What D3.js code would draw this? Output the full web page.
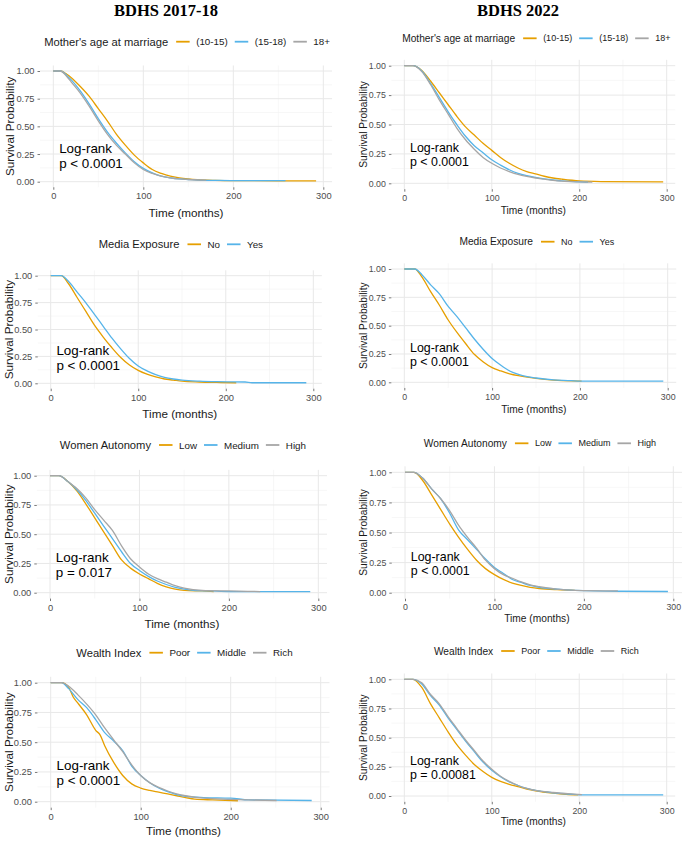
<!DOCTYPE html>
<html><head><meta charset="utf-8">
<script src="https://cdn.jsdelivr.net/npm/d3@7/dist/d3.min.js"></script>
<style>body{margin:0;background:#fff}svg{display:block}</style>
</head><body><svg id="c" width="690" height="841"></svg>
<script>
// ---------------- data ----------------
const columnTitles = ["BDHS 2017-18", "BDHS 2022"];
const legendTitles = ["Mother's age at marriage", "Media Exposure", "Women Autonomy", "Wealth Index"];
const groupLabels = [["(10-15)", "(15-18)", "18+"], ["No", "Yes"], ["Low", "Medium", "High"], ["Poor", "Middle", "Rich"]];
const testLabel = "Log-rank";
const pValueLabels = [["p < 0.0001", "p < 0.0001"], ["p < 0.0001", "p < 0.0001"], ["p = 0.017", "p < 0.0001"], ["p < 0.0001", "p = 0.00081"]];
const xTicks = [0, 100, 200, 300];
const xMinorTicks = [50, 150, 250];
const yTicks = [0, 0.25, 0.5, 0.75, 1];
const yMinorTicks = [0.125, 0.375, 0.625, 0.875];
const xAxisTitle = "Time (months)";
const yAxisTitle = "Survival Probability";
const seriesColors = ["#E69F00", "#56B4E9", "#A6A6A6"];

// Kaplan-Meier curves: [time (months), survival probability]
const age2017_10_15 = [[0,1],[8,1],[15,0.97],[20,0.94],[30,0.86],[40,0.77],[50,0.66],[60,0.55],[70,0.43],[80,0.33],[90,0.24],[100,0.17],[110,0.11],[120,0.075],[130,0.05],[140,0.035],[150,0.025],[160,0.018],[180,0.012],[200,0.01],[250,0.008],[292,0.008]];
const age2017_15_18 = [[0,1],[8,1],[15,0.96],[20,0.92],[30,0.82],[40,0.70],[50,0.57],[60,0.45],[70,0.35],[80,0.26],[90,0.18],[100,0.12],[110,0.08],[120,0.05],[130,0.035],[140,0.025],[150,0.02],[160,0.015],[180,0.012],[200,0.01],[258,0.01]];
const age2017_18p = [[0,1],[8,1],[15,0.95],[20,0.90],[30,0.80],[40,0.68],[50,0.55],[60,0.43],[70,0.33],[80,0.25],[90,0.17],[100,0.11],[110,0.075],[120,0.05],[130,0.035],[140,0.025],[150,0.02],[170,0.015]];

const age2022_10_15 = [[0,1],[10,1],[20,0.96],[30,0.87],[40,0.77],[50,0.67],[60,0.57],[70,0.48],[80,0.41],[90,0.34],[100,0.28],[110,0.22],[120,0.17],[130,0.13],[140,0.10],[150,0.08],[160,0.06],[170,0.045],[180,0.035],[200,0.02],[225,0.015],[296,0.012]];
const age2022_15_18 = [[0,1],[10,1],[20,0.955],[30,0.85],[40,0.73],[50,0.61],[60,0.50],[70,0.40],[80,0.32],[90,0.26],[100,0.20],[110,0.155],[120,0.115],[130,0.085],[140,0.065],[150,0.05],[160,0.038],[170,0.028],[180,0.02],[200,0.012],[210,0.01]];
const age2022_18p = [[0,1],[10,1],[20,0.95],[30,0.84],[40,0.71],[50,0.59],[60,0.47],[70,0.37],[80,0.29],[90,0.22],[100,0.17],[110,0.13],[120,0.10],[130,0.075],[140,0.058],[150,0.045],[160,0.035],[170,0.025],[180,0.018],[200,0.012],[215,0.01]];

const media2017_no = [[0,1],[12,1],[20,0.93],[30,0.80],[40,0.67],[50,0.54],[60,0.43],[70,0.33],[80,0.24],[90,0.17],[100,0.12],[110,0.085],[120,0.06],[130,0.04],[140,0.03],[150,0.02],[170,0.012],[190,0.008],[212,0.005]];
const media2017_yes = [[0,1],[12,1],[20,0.95],[30,0.85],[40,0.75],[50,0.64],[60,0.53],[70,0.42],[80,0.32],[90,0.23],[100,0.16],[110,0.115],[120,0.08],[130,0.055],[140,0.04],[150,0.03],[170,0.02],[190,0.015],[222,0.012],[230,0.005],[292,0.005]];

const media2022_no = [[0,1],[12,1],[20,0.93],[30,0.80],[40,0.68],[50,0.55],[60,0.44],[70,0.34],[80,0.245],[90,0.18],[100,0.13],[110,0.10],[120,0.075],[130,0.058],[140,0.045],[150,0.035],[170,0.02],[190,0.012],[202,0.01]];
const media2022_yes = [[0,1],[12,1],[20,0.95],[30,0.86],[40,0.78],[50,0.67],[60,0.58],[70,0.48],[80,0.38],[90,0.29],[100,0.21],[110,0.15],[120,0.10],[130,0.07],[140,0.05],[150,0.038],[170,0.022],[190,0.015],[200,0.01],[295,0.01]];

const auto2017_low = [[0,1],[10,1],[20,0.95],[30,0.87],[40,0.76],[50,0.64],[60,0.52],[70,0.40],[80,0.28],[90,0.21],[100,0.16],[110,0.12],[120,0.08],[130,0.05],[140,0.03],[150,0.02],[170,0.015],[183,0.01]];
const auto2017_medium = [[0,1],[10,1],[20,0.95],[30,0.88],[40,0.79],[50,0.68],[60,0.57],[70,0.46],[80,0.35],[90,0.25],[100,0.19],[110,0.14],[120,0.10],[130,0.07],[140,0.045],[150,0.03],[160,0.02],[180,0.015],[200,0.01],[291,0.01]];
const auto2017_high = [[0,1],[10,1],[20,0.95],[30,0.89],[40,0.81],[50,0.71],[60,0.62],[70,0.53],[80,0.40],[90,0.29],[100,0.22],[110,0.16],[120,0.12],[130,0.09],[140,0.06],[150,0.04],[170,0.02],[200,0.015],[235,0.01]];

const auto2022_low = [[0,1],[10,1],[20,0.93],[30,0.81],[40,0.69],[50,0.57],[60,0.46],[70,0.36],[80,0.27],[90,0.20],[100,0.15],[110,0.11],[120,0.08],[130,0.06],[140,0.045],[150,0.035],[170,0.025],[190,0.02]];
const auto2022_medium = [[0,1],[10,1],[20,0.95],[30,0.86],[40,0.78],[50,0.66],[60,0.52],[70,0.44],[80,0.36],[90,0.28],[100,0.21],[110,0.16],[120,0.11],[130,0.085],[140,0.06],[150,0.045],[170,0.03],[190,0.02],[240,0.012],[294,0.01]];
const auto2022_high = [[0,1],[10,1],[20,0.95],[30,0.86],[40,0.78],[50,0.68],[60,0.56],[70,0.46],[80,0.37],[90,0.27],[100,0.20],[110,0.15],[120,0.12],[130,0.09],[140,0.065],[150,0.05],[170,0.03],[190,0.02],[238,0.015]];

const wealth2017_poor = [[0,1],[12,1],[20,0.96],[25,0.88],[30,0.83],[40,0.73],[50,0.60],[55,0.56],[60,0.47],[70,0.33],[80,0.22],[90,0.15],[100,0.115],[110,0.095],[120,0.08],[130,0.065],[140,0.05],[150,0.035],[160,0.022],[180,0.015],[208,0.008]];
const wealth2017_middle = [[0,1],[12,1],[20,0.95],[30,0.86],[40,0.79],[50,0.69],[60,0.58],[70,0.51],[80,0.43],[90,0.30],[100,0.22],[110,0.16],[120,0.115],[130,0.085],[140,0.06],[150,0.045],[170,0.035],[200,0.03],[220,0.015],[290,0.01]];
const wealth2017_rich = [[0,1],[12,1],[20,0.97],[30,0.90],[40,0.82],[50,0.73],[60,0.62],[70,0.52],[80,0.42],[90,0.31],[100,0.22],[110,0.16],[120,0.12],[130,0.09],[140,0.065],[150,0.05],[170,0.03],[200,0.02],[251,0.01]];

const wealth2022_poor = [[0,1],[10,1],[20,0.93],[30,0.79],[40,0.67],[50,0.55],[60,0.44],[70,0.35],[80,0.27],[90,0.21],[100,0.16],[110,0.125],[120,0.10],[130,0.08],[140,0.06],[150,0.045],[170,0.025],[185,0.015],[199,0.01]];
const wealth2022_middle = [[0,1],[10,1],[20,0.96],[30,0.86],[40,0.78],[50,0.67],[60,0.57],[70,0.47],[80,0.38],[90,0.29],[100,0.22],[110,0.165],[120,0.12],[130,0.09],[140,0.065],[150,0.048],[170,0.028],[190,0.015],[200,0.01],[296,0.01]];
const wealth2022_rich = [[0,1],[10,1],[20,0.97],[30,0.87],[40,0.79],[50,0.68],[60,0.58],[70,0.48],[80,0.39],[90,0.30],[100,0.23],[110,0.17],[120,0.125],[130,0.09],[140,0.065],[150,0.048],[170,0.03],[190,0.018],[203,0.012]];

const curves = [
  [[age2017_10_15, age2017_15_18, age2017_18p], [age2022_10_15, age2022_15_18, age2022_18p]],
  [[media2017_no, media2017_yes], [media2022_no, media2022_yes]],
  [[auto2017_low, auto2017_medium, auto2017_high], [auto2022_low, auto2022_medium, auto2022_high]],
  [[wealth2017_poor, wealth2017_middle, wealth2017_rich], [wealth2022_poor, wealth2022_middle, wealth2022_rich]]
];

// ---------------- layout ----------------
// per panel: pixel of t=0, t=300, S=1, S=0; legend centre y; x-title y; y-title x
const layout = [
  [{x0:53.3,x1:323.3,y1:71,y0:181.7,leg:41.7,xt:212,yt:9},{x0:404.3,x1:666.7,y1:65.7,y0:183.3,leg:38.3,xt:210,yt:363}],
  [{x0:50.7,x1:313.3,y1:275.7,y0:383.3,leg:244.3,xt:413,yt:8},{x0:404.3,x1:667.7,y1:269,y0:382.3,leg:241.7,xt:409,yt:363}],
  [{x0:50,x1:318.3,y1:475.7,y0:592.7,leg:445,xt:623,yt:8},{x0:405,x1:673.3,y1:472.3,y0:592.7,leg:443.3,xt:618,yt:363}],
  [{x0:50.7,x1:320.7,y1:682.7,y0:801.7,leg:652.7,xt:830,yt:8},{x0:404.3,x1:666.7,y1:679.3,y0:796,leg:651,xt:821.7,yt:363}]
];
const fonts = [
  {leg:11.2, legLab:9.8, axis:11.7, tick:9.3, lr:13.4, lrGap:15},
  {leg:10.2, legLab:9.0, axis:10.2, tick:8.8, lr:12.4, lrGap:14}
];
const SANS = "'Liberation Sans', Arial, sans-serif";

const svg = d3.select("#c");

// column titles
[166, 518].forEach((cx, i) => {
  svg.append("text").attr("x", cx).attr("y", 10).attr("text-anchor", "middle")
    .attr("dominant-baseline", "central")
    .style("font-family", "'Liberation Serif', 'Times New Roman', serif")
    .style("font-weight", "bold").style("font-size", "16.5px").style("fill", "#000")
    .text(columnTitles[i]);
});

const line = d3.line().curve(d3.curveMonotoneX);

for (let r = 0; r < 4; r++) {
  for (let c = 0; c < 2; c++) {
    const L = layout[r][c], F = fonts[c];
    const x = d3.scaleLinear().domain([0, 300]).range([L.x0, L.x1]);
    const y = d3.scaleLinear().domain([0, 1]).range([L.y0, L.y1]);
    const left = x(-14.75), right = x(309.75), top = y(1.05), bottom = y(-0.05);
    const g = svg.append("g");

    // grid
    const grid = g.append("g");
    xMinorTicks.forEach(t => grid.append("line").attr("x1", x(t)).attr("x2", x(t)).attr("y1", top).attr("y2", bottom)
      .attr("stroke", "#F2F2F2").attr("stroke-width", 0.6));
    yMinorTicks.forEach(t => grid.append("line").attr("y1", y(t)).attr("y2", y(t)).attr("x1", left).attr("x2", right)
      .attr("stroke", "#F2F2F2").attr("stroke-width", 0.6));
    xTicks.forEach(t => grid.append("line").attr("x1", x(t)).attr("x2", x(t)).attr("y1", top).attr("y2", bottom)
      .attr("stroke", "#E8E8E8").attr("stroke-width", 1));
    yTicks.forEach(t => grid.append("line").attr("y1", y(t)).attr("y2", y(t)).attr("x1", left).attr("x2", right)
      .attr("stroke", "#E8E8E8").attr("stroke-width", 1));

    // axes
    const ya = g.append("g").attr("transform", `translate(${left},0)`)
      .call(d3.axisLeft(y).tickValues(yTicks).tickFormat(d3.format(".2f")).tickSize(2.5).tickPadding(3));
    const xa = g.append("g").attr("transform", `translate(0,${bottom})`)
      .call(d3.axisBottom(x).tickValues(xTicks).tickFormat(d3.format("d")).tickSize(2.5).tickPadding(3));
    [ya, xa].forEach(a => {
      a.select(".domain").remove();
      a.selectAll(".tick line").attr("stroke", "#555").attr("stroke-width", 0.8);
      a.selectAll(".tick text").style("font-family", SANS).style("font-size", F.tick + "px").style("fill", "#4D4D4D");
    });

    // curves
    curves[r][c].forEach((s, i) => {
      g.append("path").datum(s)
        .attr("d", line.x(d => x(d[0])).y(d => y(d[1])))
        .attr("fill", "none").attr("stroke", seriesColors[i]).attr("stroke-width", 1.3);
    });

    // log-rank annotation
    const lt = g.append("text").style("font-family", SANS).style("font-size", F.lr + "px").style("fill", "#000");
    lt.append("tspan").attr("x", x(6.5)).attr("y", y(0.25) - 1.5).text(testLabel);
    lt.append("tspan").attr("x", x(6.5)).attr("y", y(0.25) - 1.5 + F.lrGap).text(pValueLabels[r][c]);

    // axis titles
    g.append("text").attr("x", (left + right) / 2).attr("y", L.xt).attr("text-anchor", "middle")
      .attr("dominant-baseline", "central")
      .style("font-family", SANS).style("font-size", F.axis + "px").style("fill", "#1A1A1A").text(xAxisTitle);
    g.append("text").attr("transform", `translate(${L.yt},${(top + bottom) / 2}) rotate(-90)`)
      .attr("text-anchor", "middle").attr("dominant-baseline", "central")
      .style("font-family", SANS).style("font-size", F.axis + "px").style("fill", "#1A1A1A").text(yAxisTitle);

    // legend
    const lg = g.append("g");
    let cx = 0;
    const tt = lg.append("text").attr("x", 0).attr("y", 0).attr("dominant-baseline", "central")
      .style("font-family", SANS).style("font-size", F.leg + "px").style("fill", "#1A1A1A").text(legendTitles[r]);
    cx = tt.node().getComputedTextLength() + 8;
    groupLabels[r].forEach((lab, i) => {
      lg.append("line").attr("x1", cx).attr("x2", cx + 13.5).attr("y1", 0).attr("y2", 0)
        .attr("stroke", seriesColors[i]).attr("stroke-width", 1.8);
      cx += 13.5 + 6.5;
      const lt2 = lg.append("text").attr("x", cx).attr("y", 0).attr("dominant-baseline", "central")
        .style("font-family", SANS).style("font-size", F.legLab + "px").style("fill", "#1A1A1A").text(lab);
      cx += lt2.node().getComputedTextLength();
      if (i < groupLabels[r].length - 1) cx += 7;
    });
    const center = (left + right) / 2 + (c === 1 ? 3 : 1);
    lg.attr("transform", `translate(${center - cx / 2},${L.leg})`);
  }
}
</script>
</body></html>
